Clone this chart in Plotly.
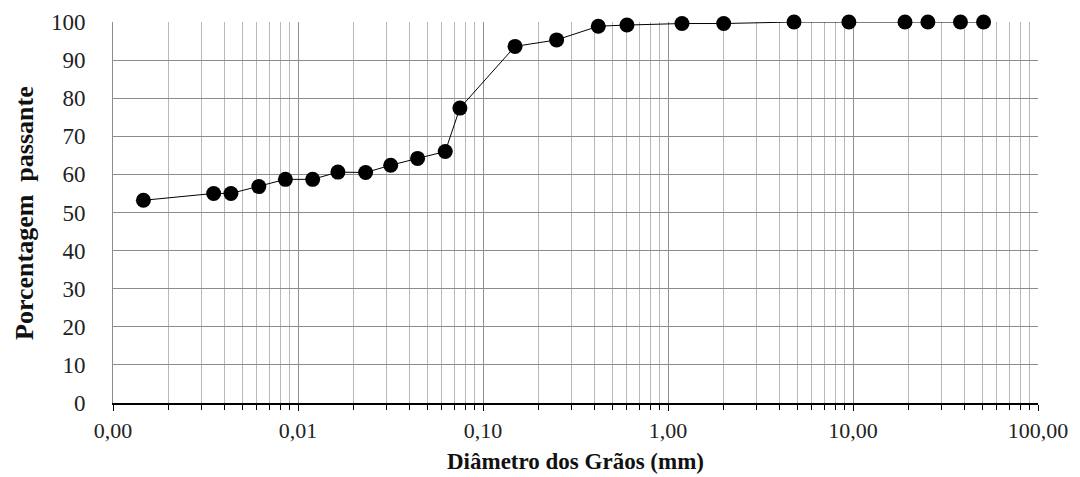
import plotly.graph_objects as go

# Grain diameter (mm) and percentage passing
diametro = [0.00146, 0.0035, 0.00434, 0.00614, 0.00855, 0.0120, 0.01644, 0.0232,
            0.0317, 0.0443, 0.0625, 0.075, 0.149, 0.25, 0.42, 0.60, 1.19, 2.0,
            4.8, 9.5, 19.1, 25.4, 38.1, 50.8]
passante = [53.2, 55.0, 55.0, 56.8, 58.7, 58.7, 60.6, 60.5,
            62.4, 64.2, 66.0, 77.4, 93.6, 95.3, 98.9, 99.2, 99.6, 99.6,
            100.0, 100.0, 100.0, 100.0, 100.0, 100.0]

x_tickvals = [0.001, 0.01, 0.1, 1, 10, 100]
x_ticktext = ["0,00", "0,01", "0,10", "1,00", "10,00", "100,00"]
y_tickvals = [0, 10, 20, 30, 40, 50, 60, 70, 80, 90, 100]

FONT = "Liberation Serif"

fig = go.Figure()
fig.add_trace(go.Scatter(
    x=diametro, y=passante, mode="lines+markers",
    line=dict(color="black", width=1),
    marker=dict(color="black", size=15, symbol="circle"),
    showlegend=False, cliponaxis=False,
))

# page body adds ~8px offset
fig.update_layout(
    width=1072, height=469,
    margin=dict(l=105, r=42, t=14, b=74),
    paper_bgcolor="white", plot_bgcolor="white",
    font=dict(family=FONT, color="black"),
    xaxis=dict(
        type="log", range=[-3, 2], automargin=False,
        tickmode="array", tickvals=x_tickvals, ticktext=x_ticktext,
        tickfont=dict(family=FONT, size=22, color="#222"),
        ticks="outside", ticklen=6, tickcolor="black", tickwidth=1,
        ticklabelstandoff=1,
        showgrid=True, gridcolor="#909090", gridwidth=1,
        minor=dict(dtick="D1", showgrid=True, gridcolor="#b8b8b8", gridwidth=1,
                   ticks="outside", ticklen=5, tickcolor="black", tickwidth=1),
        showline=True, linecolor="black", linewidth=2,
        mirror=False, zeroline=False,
    ),
    yaxis=dict(
        range=[0, 100], tickmode="array", tickvals=y_tickvals, automargin=False,
        tickfont=dict(family=FONT, size=23, color="#222"),
        ticks="", ticklabelstandoff=22,
        showgrid=True, gridcolor="#8c8c8c", gridwidth=1,
        showline=True, linecolor="#8c8c8c", linewidth=1,
        zeroline=False,
    ),
    annotations=[
        dict(text="<b>Diâmetro dos Grãos (mm)</b>", xref="paper", yref="paper",
             x=0.5, y=-0.153, xanchor="center", yanchor="middle", showarrow=False,
             font=dict(family=FONT, size=23, color="#111")),
        dict(text="<b>Porcentagem  passante</b>", xref="paper", yref="paper",
             x=-0.095, y=0.499, xanchor="center", yanchor="middle", showarrow=False,
             textangle=-90, font=dict(family=FONT, size=26, color="#111")),
    ],
)

fig.write_html("out.html")
